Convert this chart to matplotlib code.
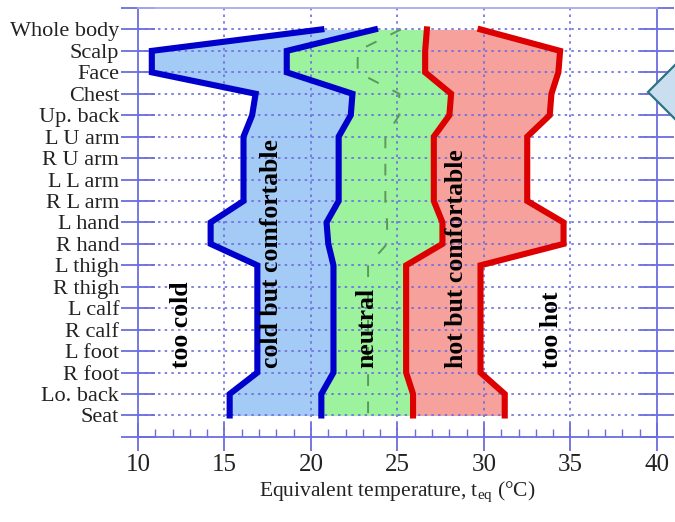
import matplotlib.pyplot as plt
from matplotlib.patches import Polygon
from matplotlib.ticker import MultipleLocator

plt.rcParams['font.family'] = ['Liberation Serif', 'DejaVu Serif']
plt.rcParams['mathtext.fontset'] = 'custom'
plt.rcParams['mathtext.rm'] = 'Liberation Serif'
plt.rcParams['mathtext.it'] = 'Liberation Serif'

segments = ["Whole body", "Scalp", "Face", "Chest", "Up. back", "L U arm", "R U arm",
            "L L arm", "R L arm", "L hand", "R hand", "L thigh", "R thigh", "L calf",
            "R calf", "L foot", "R foot", "Lo. back", "Seat"]

# zone limits in equivalent temperature (degC), one value per body segment
too_cold_limit = [20.6, 10.8, 10.8, 16.8, 16.6, 16.1, 16.1, 16.1, 16.1, 14.2, 14.2,
                  16.9, 16.9, 16.9, 16.9, 16.9, 16.9, 15.3, 15.3]
neutral_low = [23.7, 18.6, 18.6, 22.4, 22.3, 21.6, 21.6, 21.6, 21.6, 20.9, 21.0,
               21.3, 21.3, 21.3, 21.3, 21.3, 21.3, 20.6, 20.6]
neutral_high = [26.7, 26.6, 26.6, 28.1, 28.0, 27.1, 27.1, 27.1, 27.1, 27.6, 27.6,
                25.5, 25.5, 25.5, 25.5, 25.5, 25.5, 25.9, 25.9]
too_hot_limit = [29.8, 34.4, 34.3, 33.9, 33.8, 32.5, 32.5, 32.5, 32.5, 34.6, 34.6,
                 29.8, 29.8, 29.8, 29.8, 29.8, 29.8, 31.2, 31.2]
neutral_mid = [25.2, 22.7, 22.7, 25.1, 25.1, 24.3, 24.3, 24.3, 24.3, 24.4, 24.4,
               23.3, 23.3, 23.3, 23.3, 23.3, 23.3, 23.3, 23.3]

zone_names = ["too cold", "cold but comfortable", "neutral", "hot but comfortable", "too hot"]
zone_x = [12.5, 17.7, 23.2, 28.4, 33.9]

axis_col = '#6c6ce0'
rows = list(range(len(segments)))

fig = plt.figure(figsize=(6.75, 5.22), dpi=100)
ax = fig.add_axes([0.2044, 0.163, 0.7689, 0.8217])

ax.fill_betweenx(rows, too_cold_limit, neutral_low, color='#a3cbf6', lw=0, zorder=1)
ax.fill_betweenx(rows, neutral_low, neutral_high, color='#9df29d', lw=0, zorder=1)
ax.fill_betweenx(rows, neutral_high, too_hot_limit, color='#f7a19c', lw=0, zorder=1)

# dotted grid on top of the coloured zones
for r in rows:
    ax.axhline(r, color=axis_col, lw=1.2, ls=(0, (1.5, 2.5)), zorder=2)
for v in [15, 20, 25, 30, 35]:
    ax.axvline(v, color=axis_col, lw=1.2, ls=(0, (1.5, 2.5)), zorder=2)

ax.plot(neutral_mid, rows, color='#5c985c', lw=1.4, ls=(0, (6, 8)), zorder=3)
for limit, col in [(too_cold_limit, '#0000cc'), (neutral_low, '#0000cc'),
                   (neutral_high, '#dd0000'), (too_hot_limit, '#dd0000')]:
    ax.plot(limit, rows, color=col, lw=4.4, zorder=4, solid_joinstyle='miter')

for name, x in zip(zone_names, zone_x):
    ax.text(x, 15.8, name, rotation=90, ha='center', va='bottom', fontsize=18.5,
            fontweight='bold', color='black', zorder=5)

ax.set_xlim(10, 40)
ax.set_ylim(19, -1)
ax.set_yticks(range(-1, 20))
ax.set_yticklabels([''] + segments + [''], fontsize=16, color='#222222')
ax.xaxis.set_major_locator(MultipleLocator(5))
ax.xaxis.set_minor_locator(MultipleLocator(1))
ax.tick_params(axis='x', which='major', direction='inout', length=20, width=1.3,
               color=axis_col, labelsize=18, pad=2, labelcolor='#222222')
ax.tick_params(axis='x', which='minor', direction='in', length=6, width=1.0, color=axis_col)
ax.tick_params(axis='y', which='major', direction='inout', length=25, width=1.3,
               color=axis_col, left=True, right=True, pad=1)
for s in ax.spines.values():
    s.set_color(axis_col)
    s.set_linewidth(1.3)
ax.spines['top'].set_color('#a9a9ee')

ax.set_xlabel(r"Equivalent temperature, $\mathregular{t_{eq}}$ (°C)", fontsize=15.5,
              color='#222222', labelpad=3)

# callout shape cut off at the right edge
W, H = 675.0, 522.0
pts = [(648, 92), (700, 40), (760, 92), (700, 144)]
fig.add_artist(Polygon([(x / W, 1 - y / H) for x, y in pts], closed=True,
                       transform=fig.transFigure, facecolor='#c9deef',
                       edgecolor='#2f7282', lw=1.6, zorder=10))

fig.savefig('out.png', dpi=100)
